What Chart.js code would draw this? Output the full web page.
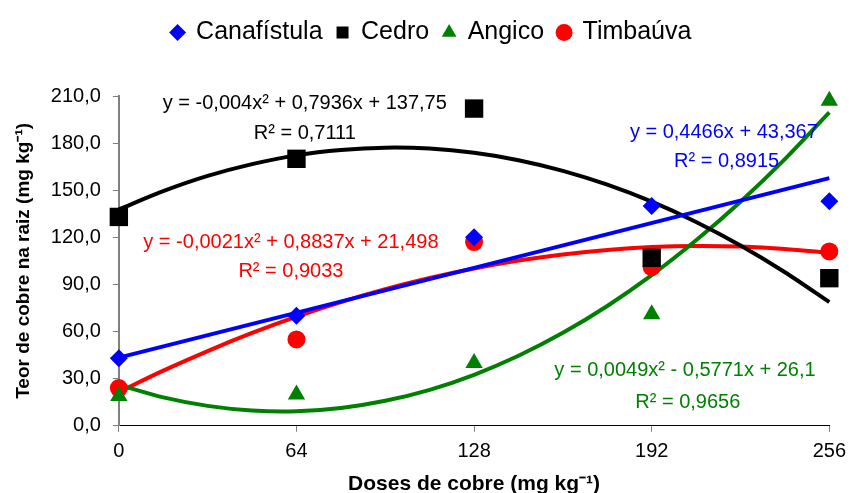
<!DOCTYPE html>
<html lang="pt">
<head>
<meta charset="UTF-8">
<script src="https://cdn.jsdelivr.net/npm/chart.js"></script>
<style>
  body { margin: 0; background: #fff; }
  #box { width: 854px; height: 493px; }
</style>
</head>
<body>
<div id="box"><canvas id="grafico"></canvas></div>
<script>
// doses (x)
const doses = [0, 64, 128, 192, 256];

// pontos observados
const canafistula = [43, 70, 120, 140, 143];
const cedro = [133, 170, 202, 107, 94];
const angico = [19, 20, 40, 71, 207];
const timbauva = [24, 55, 117, 101, 111];

// linhas de tendência
const dosesLinha = [0, 16, 32, 48, 64, 80, 96, 112, 128, 144, 160, 176, 192, 208, 224, 240, 256];
const tendCedro = [137.8, 149.4, 159.1, 166.6, 172.2, 175.6, 177.1, 176.5, 173.8, 169.1, 162.3, 153.5, 142.7, 129.8, 114.8, 97.8, 78.8];
const tendTimbauva = [21.5, 35.1, 47.6, 59.1, 69.5, 78.8, 87.0, 94.1, 100.2, 105.2, 109.1, 112.0, 113.8, 114.5, 114.1, 112.6, 110.1];
const tendAngico = [26.1, 18.1, 12.7, 9.7, 9.2, 11.3, 15.9, 22.9, 32.5, 44.6, 59.2, 76.3, 95.9, 118.1, 142.7, 169.8, 199.5];
const dosesReta = [0, 256];
const tendCanafistula = [43.4, 157.7];

// equações
const equacoes = [
  { t1: 'y = -0,004x² + 0,7936x + 137,75', t2: 'R² = 0,7111', x: 67, y: 205, x2: 67, y2: 186, cor: '#000000' },
  { t1: 'y = -0,0021x² + 0,8837x + 21,498', t2: 'R² = 0,9033', x: 62, y: 117, x2: 62, y2: 98, cor: '#ff0000' },
  { t1: 'y = 0,4466x + 43,367', t2: 'R² = 0,8915', x: 218, y: 187, x2: 219, y2: 168, cor: '#0000ff' },
  { t1: 'y = 0,0049x² - 0,5771x + 26,1', t2: 'R² = 0,9656', x: 204, y: 35, x2: 205, y2: 15, cor: '#008000' }
];

const fonte = '"Liberation Sans", Arial, sans-serif';

function pares(xs, ys) {
  return xs.map((x, i) => ({ x: x, y: ys[i] }));
}

function linha(xs, ys, cor) {
  return {
    type: 'line', label: '', data: pares(xs, ys), borderColor: cor, borderWidth: 4,
    pointRadius: 0, fill: false, tension: 0.3, clip: false
  };
}

function pontos(label, ys, cor, estilo, raio) {
  return {
    type: 'scatter', label: label, data: pares(doses, ys), backgroundColor: cor, borderColor: cor,
    borderWidth: 0, pointStyle: estilo, pointRadius: raio, pointHoverRadius: raio, clip: false
  };
}

const textoEquacoes = {
  id: 'textoEquacoes',
  afterDatasetsDraw(chart) {
    const ctx = chart.ctx;
    const sx = chart.scales.x, sy = chart.scales.y;
    ctx.save();
    ctx.font = '20px ' + fonte;
    ctx.textAlign = 'center';
    ctx.textBaseline = 'middle';
    equacoes.forEach(e => {
      ctx.fillStyle = e.cor;
      ctx.fillText(e.t1, sx.getPixelForValue(e.x), sy.getPixelForValue(e.y));
      ctx.fillText(e.t2, sx.getPixelForValue(e.x2), sy.getPixelForValue(e.y2));
    });
    ctx.restore();
  }
};

// espaço entre a legenda e o gráfico
const espacoLegenda = {
  id: 'espacoLegenda',
  beforeInit(chart) {
    const fit = chart.legend.fit;
    chart.legend.fit = function () {
      fit.bind(chart.legend)();
      this.height += 41;
    };
  }
};

new Chart(document.getElementById('grafico'), {
  data: {
    datasets: [
      pontos('Canafístula', canafistula, '#0000ff', 'rectRot', 9),
      pontos('Cedro', cedro, '#000000', 'rect', 13),
      pontos('Angico', angico, '#008000', 'triangle', 10),
      pontos('Timbaúva', timbauva, '#ff0000', 'circle', 9),
      linha(dosesReta, tendCanafistula, '#0000ff'),
      linha(dosesLinha, tendCedro, '#000000'),
      linha(dosesLinha, tendAngico, '#008000'),
      linha(dosesLinha, tendTimbauva, '#ff0000')
    ]
  },
  options: {
    responsive: true,
    maintainAspectRatio: false,
    animation: false,
    layout: { padding: { left: 12, right: 3, top: 6, bottom: -4 } },
    plugins: {
      tooltip: { enabled: false },
      legend: {
        position: 'top',
        labels: {
          usePointStyle: true,
          boxWidth: 12,
          boxHeight: 12,
          padding: 14,
          color: '#000',
          font: { size: 25, family: fonte },
          filter: item => item.text !== ''
        }
      }
    },
    scales: {
      x: {
        type: 'linear', min: 0, max: 256,
        ticks: { stepSize: 64, color: '#000', padding: 8, font: { size: 20, family: fonte } },
        grid: { drawOnChartArea: false, tickLength: 6, color: '#808080' },
        border: { color: '#000', width: 1 },
        title: {
          display: true, text: 'Doses de cobre (mg kg⁻¹)', color: '#000', padding: { top: 0, bottom: 0 },
          font: { size: 21, weight: 'bold', family: fonte }
        }
      },
      y: {
        min: 0, max: 210,
        ticks: {
          stepSize: 30, color: '#000', padding: 12,
          font: { size: 20, family: fonte },
          callback: v => v.toFixed(1).replace('.', ',')
        },
        grid: { drawOnChartArea: false, tickLength: 6, color: '#808080' },
        border: { color: '#808080', width: 2 },
        title: {
          display: true, text: 'Teor de cobre na raiz (mg kg⁻¹)', color: '#000', padding: { top: 0, bottom: 4 },
          font: { size: 19, weight: 'bold', family: fonte }
        }
      }
    }
  },
  plugins: [textoEquacoes, espacoLegenda]
});
</script>
</body>
</html>
